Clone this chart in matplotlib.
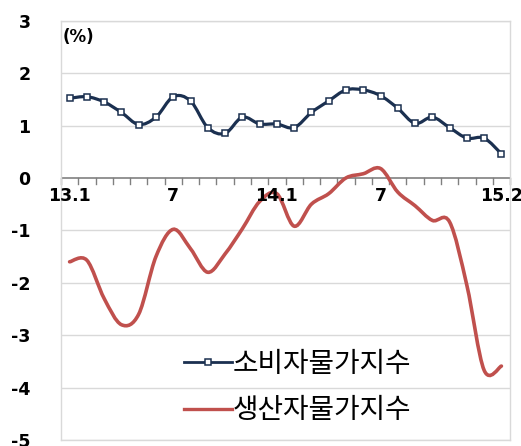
import numpy as np
import matplotlib
matplotlib.use('Agg')
import matplotlib.pyplot as plt
from matplotlib.path import Path
from matplotlib.patches import PathPatch
from matplotlib.lines import Line2D

plt.rcParams['font.family'] = ['DejaVu Sans', 'Noto Sans CJK KR']

# 월별 데이터 (13.1 ~ 15.2), 전년동월대비 %
meses = ['13.1', '2', '3', '4', '5', '6', '7', '8', '9', '10', '11', '12',
         '14.1', '2', '3', '4', '5', '6', '7', '8', '9', '10', '11', '12',
         '15.1', '15.2']
cpi = [1.52, 1.55, 1.45, 1.25, 1.02, 1.16, 1.55, 1.47, 0.96, 0.85, 1.16, 1.03,
       1.03, 0.96, 1.25, 1.47, 1.68, 1.68, 1.57, 1.33, 1.04, 1.16, 0.96, 0.76,
       0.76, 0.46]
ppi = [-1.6, -1.57, -2.3, -2.8, -2.6, -1.5, -0.98, -1.35, -1.8, -1.45, -0.97, -0.45,
       -0.3, -0.92, -0.5, -0.3, 0.0, 0.08, 0.18, -0.27, -0.53, -0.81, -0.84, -2.05,
       -3.67, -3.59]
etiquetas = {0: '13.1', 6: '7', 12: '14.1', 18: '7', 25: '15.2'}

azul = '#1b3050'
rojo = '#c0504d'


def curva_suave(xs, ys):
    # curva de bezier como la linea suavizada de excel
    pts = np.column_stack([xs, ys])
    ext = np.vstack([pts[0], pts, pts[-1]])
    verts = [pts[0]]
    codes = [Path.MOVETO]
    for i in range(len(pts) - 1):
        p0, p1, p2, p3 = ext[i], ext[i + 1], ext[i + 2], ext[i + 3]
        c1 = p1 + (p2 - p0) / 6.0
        c2 = p2 - (p3 - p1) / 6.0
        verts += [c1, c2, p2]
        codes += [Path.CURVE4] * 3
    return Path(verts, codes)


fig = plt.figure(figsize=(5.21, 4.46), dpi=100)
ax = fig.add_axes([0.117, 0.0135, 0.862, 0.94])

x = np.arange(len(meses))
ax.set_xlim(-0.5, len(meses) - 0.5)
ax.set_ylim(-5, 3)

# rejilla
for v in range(-5, 4):
    if v != 0:
        ax.axhline(v, color='#d9d9d9', linewidth=1.0, zorder=0)
ax.axhline(0, color='#808080', linewidth=1.2, zorder=1)
for s in ax.spines.values():
    s.set_color('#d9d9d9')
    s.set_linewidth(1.0)

# ticks del eje de categorias en y=0
for b in np.arange(-0.5, len(meses), 1.0):
    ax.plot([b, b], [0, -0.11], color='#808080', linewidth=1.0, zorder=1, clip_on=False)

ax.add_patch(PathPatch(curva_suave(x, ppi), facecolor='none', edgecolor=rojo,
                       linewidth=2.6, zorder=3, capstyle='round'))
ax.add_patch(PathPatch(curva_suave(x, cpi), facecolor='none', edgecolor=azul,
                       linewidth=2.3, zorder=4, capstyle='round'))
ax.plot(x, cpi, linestyle='none', marker='s', markersize=5, markerfacecolor='white',
        markeredgecolor=azul, markeredgewidth=1.1, zorder=5)

for i, txt in etiquetas.items():
    ax.text(x[i], -0.18, txt, ha='center', va='top', fontsize=12.5, fontweight='bold')

ax.set_xticks([])
ax.set_yticks(range(-5, 4))
ax.set_yticklabels([str(v) for v in range(-5, 4)], fontsize=12.5, fontweight='bold')
ax.tick_params(axis='y', length=0, pad=22)

ax.text(-0.4, 2.69, '(%)', fontsize=12, fontweight='bold', ha='left', va='center')

h1 = Line2D([], [], color=azul, linewidth=2.0, marker='s', markersize=5,
            markerfacecolor='white', markeredgecolor=azul, markeredgewidth=1.1)
h2 = Line2D([], [], color=rojo, linewidth=2.4)
ax.legend([h1, h2], ['소비자물가지수', '생산자물가지수'], loc='upper left',
          bbox_to_anchor=(0.25, 0.243), frameon=False, handlelength=1.7,
          handletextpad=0.05, labelspacing=0.58,
          prop={'family': 'Noto Sans CJK KR', 'size': 20}, borderaxespad=0)

fig.savefig('out.png', dpi=100)
